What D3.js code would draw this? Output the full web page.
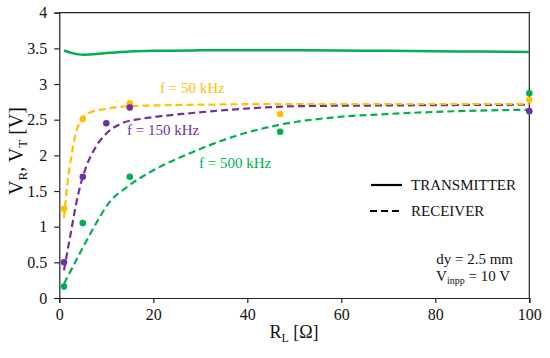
<!DOCTYPE html>
<html><head><meta charset="utf-8">
<script src="https://cdn.jsdelivr.net/npm/d3@7"></script>
<style>body{margin:0;background:#fff}svg{display:block}svg text{font-family:"Liberation Serif","Times New Roman",Times,serif !important}</style>
</head><body><svg id="c" width="550" height="358"></svg>
<script>
// ---- data ----
const xTicks = [0, 20, 40, 60, 80, 100];
const yTicks = [0, 0.5, 1, 1.5, 2, 2.5, 3, 3.5, 4];
const yTickLabels = ["0", "0.5", "1", "1.5", "2", "2.5", "3", "3.5", "4"];

// transmitter (solid green)
const txX = [1, 3, 5, 8, 10, 15, 20, 30, 40, 50, 60, 70, 80, 90, 100];
const txY = [3.47, 3.43, 3.41, 3.42, 3.435, 3.455, 3.465, 3.472, 3.475, 3.475, 3.47, 3.465, 3.46, 3.455, 3.45];

// receiver curves (dashed)
const r50X = [1, 1.9, 2.6, 3.3, 4.4, 6.2, 9.7, 15, 20.4, 30, 47, 70, 100];
const r50Y = [1.12, 1.7, 2.0, 2.25, 2.47, 2.59, 2.65, 2.69, 2.70, 2.71, 2.72, 2.72, 2.72];
const r150X = [1, 2.3, 4.0, 5.5, 7.6, 10.4, 13.3, 17.2, 20.4, 27.8, 38.4, 51, 70, 100];
const r150Y = [0.39, 0.86, 1.45, 1.8, 2.1, 2.33, 2.45, 2.51, 2.54, 2.59, 2.65, 2.69, 2.70, 2.71];
const r500X = [1, 4.4, 7.6, 10.4, 14.7, 20, 27.8, 38.4, 47, 58, 70, 85, 100];
const r500Y = [0.2, 0.63, 1.02, 1.32, 1.57, 1.79, 2.03, 2.29, 2.43, 2.53, 2.58, 2.62, 2.64];

// measured points
const p50X = [1, 5, 15, 47, 100];
const p50Y = [1.25, 2.51, 2.73, 2.58, 2.78];
const p150X = [1, 5, 10, 15, 100];
const p150Y = [0.5, 1.7, 2.45, 2.67, 2.62];
const p500X = [1, 5, 15, 47, 100];
const p500Y = [0.16, 1.05, 1.70, 2.33, 2.87];

const cGreen = "#00B050", cYellow = "#FFC000", cPurple = "#7030A0";

// ---- chart ----
const svg = d3.select("#c");
const L = 59.3, R = 529.3, T = 12.7, B = 298;
const x = d3.scaleLinear().domain([0, 100]).range([L, R]);
const y = d3.scaleLinear().domain([0, 4]).range([B, T]);

const line = d3.line().x(d => x(d[0])).y(d => y(d[1])).curve(d3.curveMonotoneX);
const zip = (a, b) => a.map((v, i) => [v, b[i]]);

// frame
svg.append("path").attr("d", `M${L},${T}H${R}V${B}`).attr("fill", "none").attr("stroke", "#222").attr("stroke-width", 1.2);

const xAxis = svg.append("g").attr("transform", `translate(0,${B})`)
  .call(d3.axisBottom(x).tickValues(xTicks).tickSize(5).tickPadding(6).tickFormat(d3.format("d")));
const yAxis = svg.append("g").attr("transform", `translate(${L},0)`)
  .call(d3.axisLeft(y).tickValues(yTicks).tickSize(5).tickPadding(7).tickFormat((d, i) => yTickLabels[i]));
[xAxis, yAxis].forEach(g => {
  g.attr("font-family", null);
  g.select(".domain").attr("stroke", "#222").attr("stroke-width", 1.2);
  g.selectAll(".tick line").attr("stroke", "#222").attr("stroke-width", 1.2);
  g.selectAll("text").attr("font-size", 16).attr("fill", "#111");
});

// curves
svg.append("path").datum(zip(txX, txY)).attr("d", line).attr("fill", "none")
  .attr("stroke", cGreen).attr("stroke-width", 2.5);
[[r500X, r500Y, cGreen], [r150X, r150Y, cPurple], [r50X, r50Y, cYellow]].forEach(([a, b, c]) => {
  svg.append("path").datum(zip(a, b)).attr("d", line).attr("fill", "none")
    .attr("stroke", c).attr("stroke-width", 2.2).attr("stroke-dasharray", "7,4");
});

// points
[[p50X, p50Y, cYellow], [p150X, p150Y, cPurple], [p500X, p500Y, cGreen]].forEach(([a, b, c]) => {
  svg.append("g").selectAll("circle").data(zip(a, b)).join("circle")
    .attr("cx", d => x(d[0])).attr("cy", d => y(d[1])).attr("r", 3.3).attr("fill", c);
});

// series labels
const lab = (tx, ty, s, c) => svg.append("text").attr("x", tx).attr("y", ty).attr("font-size", 15)
  .attr("fill", c).text(s);
lab(160, 93, "f = 50 kHz", cYellow);
lab(127, 135, "f = 150 kHz", cPurple);
lab(199, 168, "f = 500 kHz", cGreen);

// legend
svg.append("line").attr("x1", 371).attr("x2", 402).attr("y1", 185).attr("y2", 185)
  .attr("stroke", "#000").attr("stroke-width", 2.2);
svg.append("line").attr("x1", 370).attr("x2", 402).attr("y1", 211).attr("y2", 211)
  .attr("stroke", "#000").attr("stroke-width", 2.2).attr("stroke-dasharray", "7,4");
svg.append("text").attr("x", 411).attr("y", 190).attr("font-size", 15).attr("fill", "#111").text("TRANSMITTER");
svg.append("text").attr("x", 411).attr("y", 216).attr("font-size", 15).attr("fill", "#111").text("RECEIVER");

// annotation
svg.append("text").attr("x", 513).attr("y", 264).attr("font-size", 15).attr("text-anchor", "end")
  .attr("fill", "#111").text("dy = 2.5 mm");
const vt = svg.append("text").attr("x", 510).attr("y", 281).attr("font-size", 15).attr("text-anchor", "end").attr("fill", "#111");
vt.append("tspan").text("V");
vt.append("tspan").attr("font-size", 10).attr("dy", 3).text("inpp");
vt.append("tspan").attr("dy", -3).text(" = 10 V");

// axis titles
const xt = svg.append("text").attr("x", 294).attr("y", 338).attr("font-size", 18).attr("text-anchor", "middle").attr("fill", "#111");
xt.append("tspan").text("R");
xt.append("tspan").attr("font-size", 12).attr("dy", 4).text("L");
xt.append("tspan").attr("dy", -4).text(" [Ω]");

const yt = svg.append("text").attr("transform", "translate(23,151) rotate(-90)").attr("font-size", 20)
  .attr("text-anchor", "middle").attr("fill", "#111");
yt.append("tspan").text("V");
yt.append("tspan").attr("font-size", 13).attr("dy", 4).text("R");
yt.append("tspan").attr("dy", -4).text(", V");
yt.append("tspan").attr("font-size", 13).attr("dy", 4).text("T");
yt.append("tspan").attr("dy", -4).text(" [V]");
</script></body></html>
